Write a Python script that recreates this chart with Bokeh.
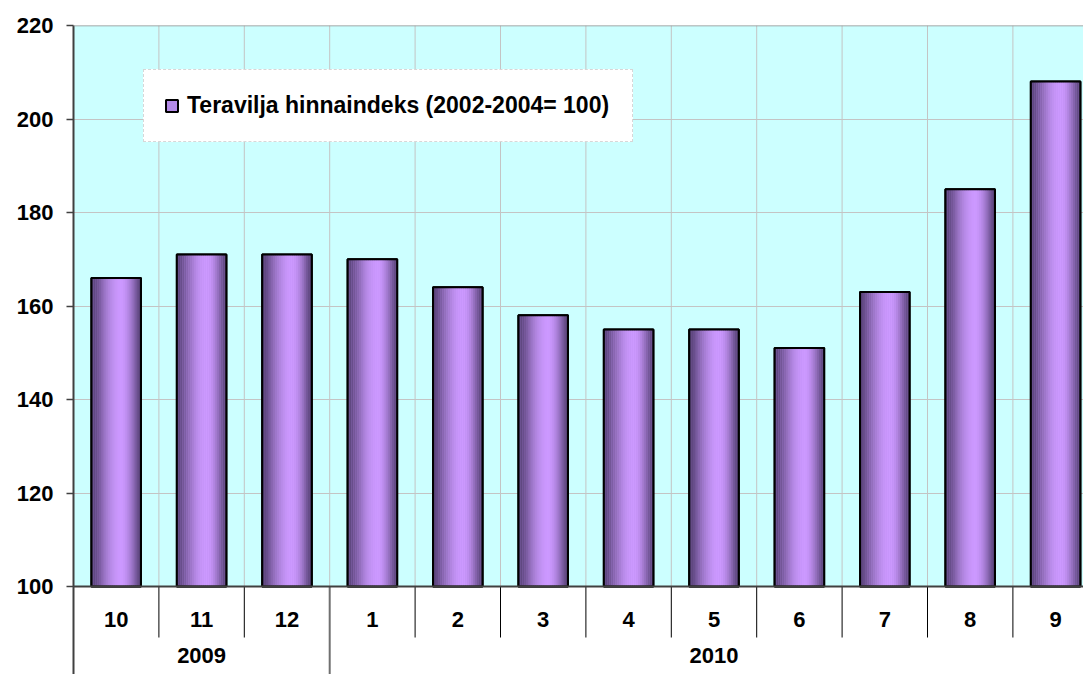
import numpy as np
from bokeh.plotting import figure
from bokeh.models import (ColumnDataSource, Range1d, FixedTicker, Legend, LegendItem,
                          BoxAnnotation, Span)
from bokeh.core.properties import value
from bokeh.embed import file_html
from bokeh.resources import INLINE

# ---------------- data ----------------
months = ["10", "11", "12", "1", "2", "3", "4", "5", "6", "7", "8", "9"]
month_year = ["2009"] * 3 + ["2010"] * 9
values = [166, 171, 171, 170, 164, 158, 155, 155, 151, 163, 185, 208]
series_name = "Teravilja hinnaindeks (2002-2004= 100)"
y_ticks = [100, 120, 140, 160, 180, 200, 220]

# ---------------- styling / layout ----------------
FONT = "Liberation Sans"
FIG_W, FIG_H = 1083, 674
LEFT, TOP = 73, 25
PX_PER_CAT = 85.4
PX_PER_UNIT = 4.675
BAR_W = 0.58
Y_BASE = 100
Y_MAX = 220
Y_MIN = Y_MAX - (FIG_H - TOP) / PX_PER_UNIT   # bottom of the category-label band
MONTH_Y = Y_BASE - 33 / PX_PER_UNIT            # month label row
YEAR_Y = Y_BASE - 69 / PX_PER_UNIT             # year label row
SEP_Y = Y_BASE - 51 / PX_PER_UNIT              # end of month separators

x = np.arange(len(months))

p = figure(width=FIG_W, height=FIG_H, output_backend="svg", toolbar_location=None,
           x_range=Range1d(-0.5, -0.5 + (FIG_W - LEFT) / PX_PER_CAT),
           y_range=Range1d(Y_MIN, Y_MAX),
           x_axis_location=None,
           min_border_left=LEFT, min_border_right=0, min_border_top=TOP, min_border_bottom=0,
           background_fill_color="white", border_fill_color="white",
           outline_line_color=None)

# plot-area background
p.add_layout(BoxAnnotation(bottom=Y_BASE, top=Y_MAX, fill_color="#ccffff", fill_alpha=1,
                           line_color=None, level="image"))

# y axis
yax = p.yaxis[0]
yax.ticker = FixedTicker(ticks=y_ticks)
yax.major_label_text_font = FONT
yax.major_label_text_font_style = "bold"
yax.major_label_text_font_size = "22px"
yax.major_label_text_color = "black"
yax.axis_line_color = "#404040"
yax.axis_line_width = 2
yax.major_tick_line_color = "#404040"
yax.major_tick_line_width = 1.5
yax.major_tick_out = 7
yax.major_tick_in = 0
yax.minor_tick_line_color = None
yax.major_label_standoff = 13

p.xgrid.visible = False
p.ygrid.ticker = FixedTicker(ticks=y_ticks[1:-1])
p.ygrid.grid_line_color = "#c4c4c4"
p.ygrid.grid_line_width = 1

# vertical grid lines at category boundaries (inside plot area)
bounds = x + 0.5
p.segment(x0=bounds, y0=[Y_BASE] * len(bounds), x1=bounds, y1=[Y_MAX] * len(bounds),
          line_color="#c4c4c4", line_width=1)
p.add_layout(Span(location=Y_MAX, dimension="width", line_color="#8c8c8c", line_width=1.5))

# ---------------- bars ----------------
base = p.vbar(x=x, top=values, bottom=Y_BASE, width=BAR_W,
              fill_color="#b48be8", line_color="black", line_width=2)

# cylinder shading strips
n_strips = 26
dark = np.array([88, 66, 120])
light = np.array([204, 153, 255])
t_peak = 0.6
sx, stop, scol = [], [], []
for k in range(n_strips):
    t = (k + 0.5) / n_strips
    d = (t - t_peak) / (t_peak if t < t_peak else (1 - t_peak))
    b = max(0.0, 1 - d * d) ** 1.6
    c = dark + (light - dark) * b
    col = "#%02x%02x%02x" % tuple(int(round(v)) for v in c)
    off = -BAR_W / 2 + (k + 0.5) * BAR_W / n_strips
    for i, v in enumerate(values):
        sx.append(x[i] + off)
        stop.append(v)
        scol.append(col)
strip_src = ColumnDataSource(dict(x=sx, top=stop, color=scol))
p.vbar(x="x", top="top", bottom=Y_BASE, width=BAR_W / n_strips * 1.08,
       fill_color="color", line_color=None, source=strip_src)

p.vbar(x=x, top=values, bottom=Y_BASE, width=BAR_W,
       fill_color=None, line_color="black", line_width=2)

# x-axis base line
p.add_layout(Span(location=Y_BASE, dimension="width", line_color="#404040", line_width=2))

# ---------------- category labels band ----------------
year_bounds = [i + 0.5 for i in range(len(months) - 1) if month_year[i] != month_year[i + 1]]
month_bounds = [i + 0.5 for i in range(len(months) - 1) if month_year[i] == month_year[i + 1]]
p.segment(x0=month_bounds, y0=[Y_BASE] * len(month_bounds), x1=month_bounds,
          y1=[SEP_Y] * len(month_bounds), line_color="black", line_width=1)
p.segment(x0=year_bounds, y0=[Y_BASE] * len(year_bounds), x1=year_bounds,
          y1=[Y_MIN] * len(year_bounds), line_color="#707070", line_width=2)

p.text(x=x, y=[MONTH_Y] * len(months), text=months, text_align="center",
       text_baseline="middle", text_font=value(FONT), text_font_style="bold",
       text_font_size="22px", text_color="black")

years = []
year_x = []
for yr in dict.fromkeys(month_year):
    idx = [i for i, m in enumerate(month_year) if m == yr]
    years.append(yr)
    year_x.append((idx[0] + idx[-1]) / 2)
p.text(x=year_x, y=[YEAR_Y] * len(years), text=years, text_align="center",
       text_baseline="middle", text_font=value(FONT), text_font_style="bold",
       text_font_size="22px", text_color="black")

# ---------------- legend ----------------
legend = Legend(items=[LegendItem(label=series_name, renderers=[base])],
                location=(70, FIG_H - 142), orientation="vertical",
                label_text_font=FONT, label_text_font_style="bold",
                label_text_font_size="23px", label_text_color="black",
                glyph_width=15, glyph_height=15, label_standoff=8,
                padding=20, spacing=0, margin=0,
                label_width=425, label_height=31,
                border_line_color="#b0b0b0", border_line_dash="8 4", border_line_width=1.5,
                background_fill_color="white", background_fill_alpha=1)
p.add_layout(legend)

open("out.html", "w").write(file_html(p, INLINE))
